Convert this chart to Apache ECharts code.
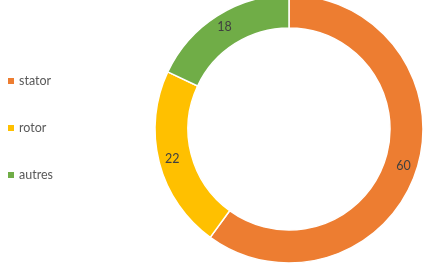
<!DOCTYPE html>
<html><head><meta charset="utf-8">
<script src="https://cdn.jsdelivr.net/npm/echarts@6/dist/echarts.min.js"></script>
<style>html,body{margin:0;padding:0;background:#fff}#c{width:443px;height:280px}</style>
</head><body><div id="c"></div>
<script>
var categories = ["stator", "rotor", "autres"];
var values = [60, 22, 18];
var colors = ["#ED7D31", "#FFC000", "#70AD47"];

var chart = echarts.init(document.getElementById('c'), null, {renderer: 'canvas'});
chart.setOption({
  animation: false,
  color: colors,
  legend: {
    orient: 'vertical',
    left: 6,
    top: 74,
    padding: 0,
    itemWidth: 8,
    itemHeight: 8,
    itemGap: 33,
    icon: 'rect',
    data: categories,
    textStyle: {fontFamily: 'Lato', fontSize: 12.5, color: '#595959', lineHeight: 14, padding: [0, 0, 0, -1]}
  },
  series: [{
    type: 'pie',
    center: [289, 129],
    radius: [101, 134],
    startAngle: 90,
    clockwise: true,
    avoidLabelOverlap: false,
    itemStyle: {borderColor: '#fff', borderWidth: 1.5},
    label: {show: true, position: 'inside', formatter: '{c}', fontFamily: 'Lato', fontSize: 12.5, color: '#404040'},
    labelLine: {show: false},
    emphasis: {disabled: true},
    data: categories.map(function(n, i){ return {name: n, value: values[i]}; })
  }]
});
</script></body></html>
